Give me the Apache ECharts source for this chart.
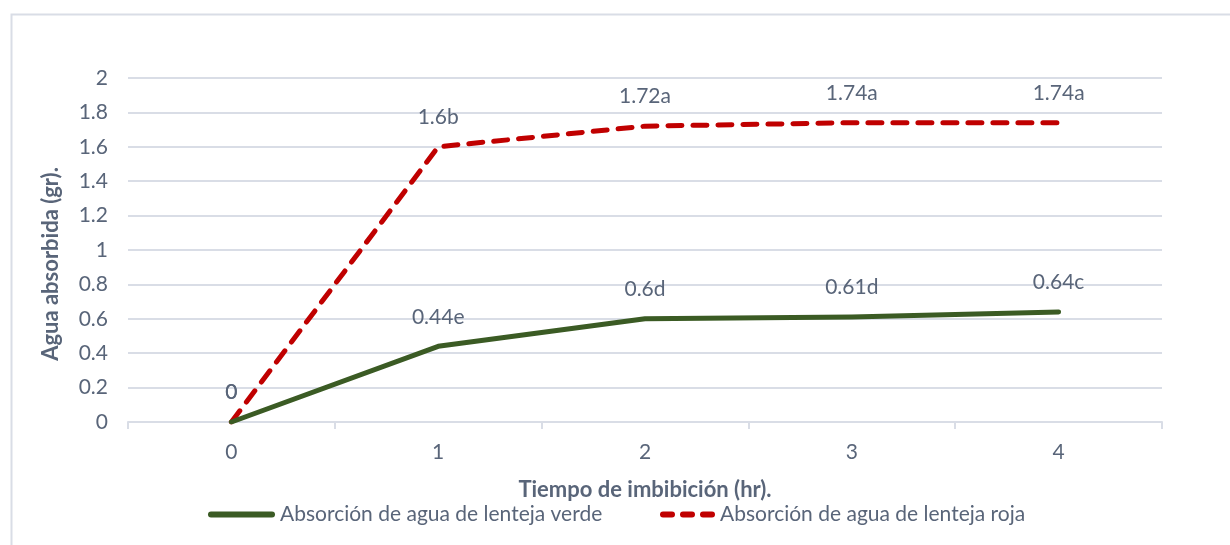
<!DOCTYPE html>
<html>
<head>
<meta charset="utf-8">
<script src="https://cdn.jsdelivr.net/npm/echarts@6/dist/echarts.min.js"></script>
<style>
  html, body { margin: 0; padding: 0; background: #fff; }
  #chart { width: 1230px; height: 545px; }
</style>
</head>
<body>
<div id="chart"></div>
<script>
// Imbibition time (hours)
const categories = ['0', '1', '2', '3', '4'];
// Absorbed water (g) and significance letters
const greenValues = [0, 0.44, 0.6, 0.61, 0.64];
const greenLetters = ['', 'e', 'd', 'd', 'c'];
const redValues = [0, 1.6, 1.72, 1.74, 1.74];
const redLetters = ['', 'b', 'a', 'a', 'a'];
const yTicks = { min: 0, max: 2, interval: 0.2 };

const greenName = 'Absorción de agua de lenteja verde';
const redName = 'Absorción de agua de lenteja roja';

const textColor = '#596579';
const gridColor = '#d9dde6';
const green = '#3b5b24';
const red = '#c00000';
const fontFamily = 'Lato, "Open Sans", sans-serif';
const fontSize = 21;

function labelFor(letters) {
  return {
    show: true,
    position: 'top',
    distance: 19,
    color: textColor,
    fontSize: fontSize,
    fontFamily: fontFamily,
    formatter: p => p.value + letters[p.dataIndex]
  };
}

function legendFor(name, left, width, lineStyle) {
  return {
    top: 504,
    left: left,
    padding: 0,
    itemWidth: width,
    itemHeight: 14,
    textStyle: { color: textColor, fontSize: fontSize, fontFamily: fontFamily, padding: [0, 0, 0, 3] },
    itemStyle: { color: 'rgba(0,0,0,0)', borderWidth: 0 },
    lineStyle: lineStyle,
    data: [name]
  };
}

const chart = echarts.init(document.getElementById('chart'), null, { renderer: 'canvas' });
chart.setOption({
  backgroundColor: '#fff',
  animation: false,
  textStyle: { fontFamily: fontFamily, color: textColor },
  graphic: [{
    type: 'rect',
    left: 9, top: 12,
    shape: { width: 1240, height: 560 },
    style: { fill: 'none', stroke: gridColor, lineWidth: 2 },
    silent: true
  }],
  grid: { left: 128, right: 68, top: 78, bottom: 123 },
  legend: [
    legendFor(greenName, 208, 61, { width: 6, cap: 'round' }),
    legendFor(redName, 660, 49, { width: 6, cap: 'round', type: [9, 11] })
  ],
  xAxis: {
    type: 'category',
    data: categories,
    boundaryGap: true,
    name: 'Tiempo de imbibición (hr).',
    nameLocation: 'middle',
    nameGap: 57,
    nameTextStyle: { color: textColor, fontSize: 22, fontWeight: 'bold', fontFamily: fontFamily },
    axisLine: { lineStyle: { color: gridColor, width: 2 } },
    axisTick: { show: true, length: 7, lineStyle: { color: gridColor, width: 2 } },
    axisLabel: { color: textColor, fontSize: fontSize, margin: 20, fontFamily: fontFamily },
    splitLine: { show: false }
  },
  yAxis: {
    type: 'value',
    min: yTicks.min, max: yTicks.max, interval: yTicks.interval,
    name: 'Agua absorbida (gr).',
    nameLocation: 'middle',
    nameGap: 66,
    nameTextStyle: {
      color: textColor, fontSize: 22, fontWeight: 'bold', fontFamily: fontFamily,
      padding: [0, 28, 0, 0]
    },
    axisLine: { show: false },
    axisTick: { show: false },
    axisLabel: { color: textColor, fontSize: fontSize, margin: 20, fontFamily: fontFamily },
    splitLine: { lineStyle: { color: gridColor, width: 2 } }
  },
  series: [
    {
      name: greenName,
      type: 'line',
      data: greenValues,
      symbol: 'circle',
      symbolSize: 0,
      color: green,
      lineStyle: { color: green, width: 5, cap: 'round', join: 'round' },
      label: labelFor(greenLetters),
      z: 3
    },
    {
      name: redName,
      type: 'line',
      data: redValues,
      symbol: 'circle',
      symbolSize: 0,
      color: red,
      lineStyle: { color: red, width: 5, type: [14, 11], cap: 'round', join: 'round' },
      label: labelFor(redLetters),
      z: 2
    }
  ]
});
</script>
</body>
</html>
